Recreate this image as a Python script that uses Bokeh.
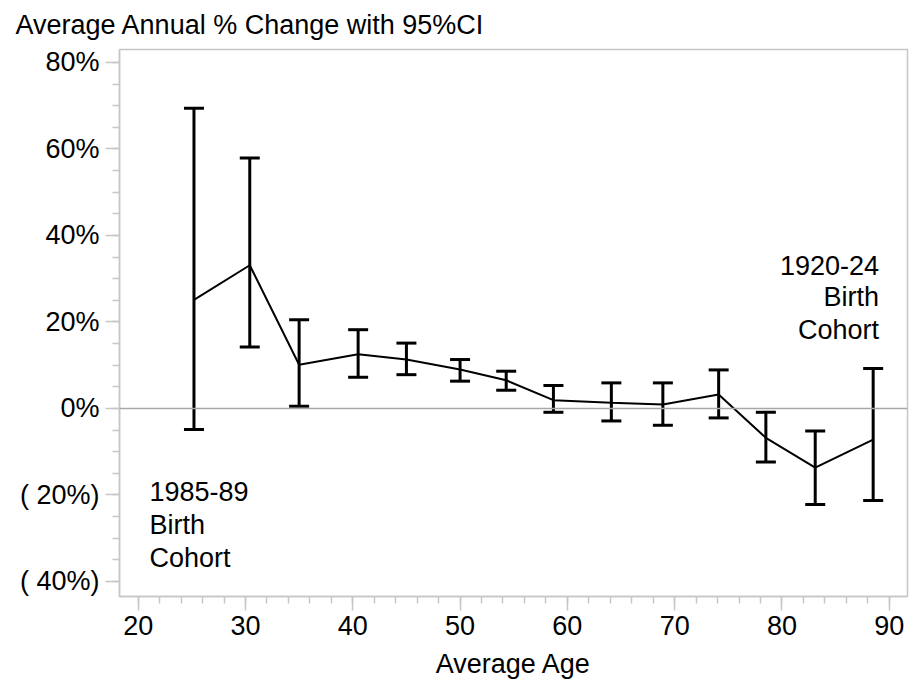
from bokeh.plotting import figure
from bokeh.models import (Range1d, FixedTicker, Whisker, TeeHead, ColumnDataSource,
                          Span, Label)
from bokeh.embed import file_html
from bokeh.resources import INLINE

# ---- data ----
ages = [25.2, 30.4, 35.0, 40.5, 45.0, 50.0, 54.3, 58.7, 64.1, 68.9, 74.1, 78.5, 83.1, 88.5]
apc = [25.1, 33.1, 10.1, 12.5, 11.3, 9.0, 6.5, 1.9, 1.3, 0.9, 3.2, -6.8, -13.7, -7.2]
ci_upper = [69.4, 57.9, 20.5, 18.2, 15.1, 11.3, 8.6, 5.3, 5.9, 5.9, 8.9, -0.9, -5.2, 9.2]
ci_lower = [-4.9, 14.2, 0.5, 7.2, 7.8, 6.3, 4.2, -0.9, -2.9, -3.9, -2.2, -12.4, -22.2, -21.3]

x_ticks = [20, 30, 40, 50, 60, 70, 80, 90]
y_ticks = [-40, -20, 0, 20, 40, 60, 80]
y_tick_labels = ["( 40%)", "( 20%)", "0%", "20%", "40%", "60%", "80%"]

title_text = "Average Annual % Change with 95%CI"
x_label = "Average Age"
left_note = ["1985-89", "Birth", "Cohort"]
right_note = ["1920-24", "Birth", "Cohort"]

FONT = "Liberation Sans"
GRAY = "#c6c6c6"

src = ColumnDataSource(dict(age=ages, apc=apc, lo=ci_lower, hi=ci_upper))

p = figure(width=909, height=686, output_backend="svg", toolbar_location=None,
           x_range=Range1d(18.26, 91.7), y_range=Range1d(-43.5, 83.0),
           min_border_left=119, min_border_right=2, min_border_top=49,
           min_border_bottom=90)

p.title.text = title_text
p.title.text_font = FONT
p.title.text_font_size = "27px"
p.title.text_font_style = "normal"
p.title.text_color = "black"
p.title.offset = -104
p.title.vertical_align = "top"
p.title.standoff = 16

p.grid.visible = False
p.outline_line_color = GRAY
p.outline_line_width = 1.5
p.background_fill_color = "white"
p.border_fill_color = "white"

# axes
minor_x = list(range(20, 91, 2))
minor_y = list(range(-40, 81, 5))
p.xaxis.ticker = FixedTicker(ticks=x_ticks, minor_ticks=minor_x)
p.yaxis.ticker = FixedTicker(ticks=y_ticks, minor_ticks=minor_y)
p.yaxis.major_label_overrides = {t: l for t, l in zip(y_ticks, y_tick_labels)}
p.xaxis.axis_label = x_label
for ax in (p.xaxis, p.yaxis):
    ax.axis_line_color = GRAY
    ax.axis_line_width = 1.5
    ax.major_tick_line_color = GRAY
    ax.minor_tick_line_color = GRAY
    ax.major_tick_line_width = 1.5
    ax.minor_tick_line_width = 1.5
    ax.major_tick_out = 14
    ax.major_tick_in = 0
    ax.minor_tick_out = 7
    ax.minor_tick_in = 0
    ax.major_label_text_font = FONT
    ax.major_label_text_font_size = "27px"
    ax.major_label_text_color = "black"
p.yaxis.major_label_standoff = 6
p.xaxis.major_label_standoff = 5
p.xaxis.axis_label_text_font = FONT
p.xaxis.axis_label_text_font_size = "27px"
p.xaxis.axis_label_text_font_style = "normal"
p.xaxis.axis_label_text_color = "black"
p.xaxis.axis_label_standoff = 11

# zero reference line
p.add_layout(Span(location=0, dimension="width", line_color="#a8a8a8", line_width=1.5))

# error bars
wh = Whisker(source=src, base="age", lower="lo", upper="hi", line_color="black",
             line_width=3,
             upper_head=TeeHead(size=20, line_color="black", line_width=3),
             lower_head=TeeHead(size=20, line_color="black", line_width=3))
p.add_layout(wh)

# connecting line
p.line("age", "apc", source=src, line_color="black", line_width=2)

# annotations
for txt, yy in zip(left_note, [-19.3, -27.0, -34.5]):
    p.add_layout(Label(x=21.05, y=yy, text=txt, text_font=FONT, text_font_size="27px",
                       text_color="black", text_align="left", text_baseline="alphabetic"))
for txt, yy in zip(right_note, [33.1, 25.7, 18.2]):
    p.add_layout(Label(x=89.05, y=yy, text=txt, text_font=FONT, text_font_size="27px",
                       text_color="black", text_align="right", text_baseline="alphabetic"))

open("out.html", "w").write(file_html(p, INLINE))
